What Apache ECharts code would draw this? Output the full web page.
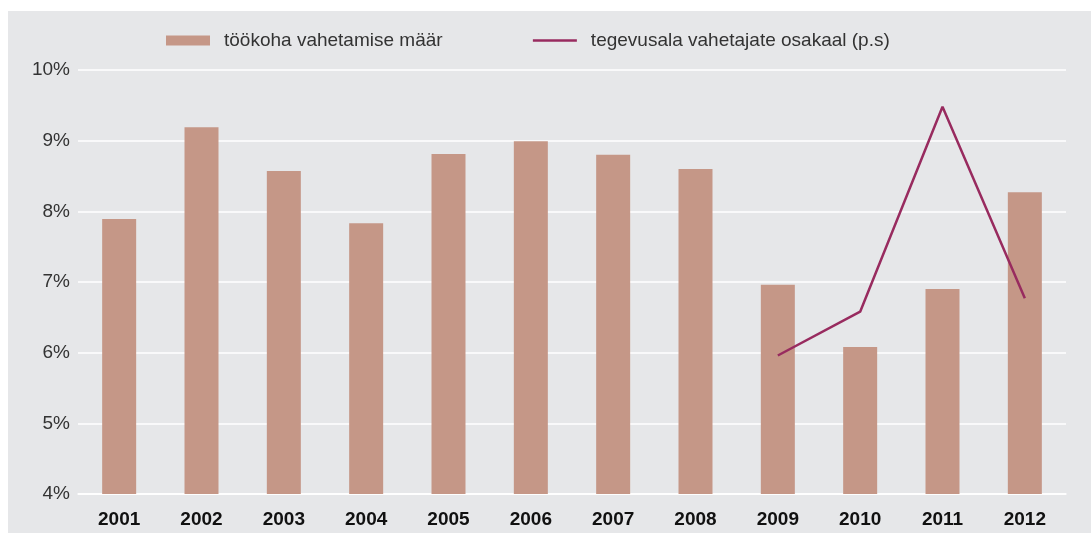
<!DOCTYPE html>
<html>
<head>
<meta charset="utf-8">
<script src="https://cdn.jsdelivr.net/npm/echarts@6/dist/echarts.min.js"></script>
<style>
html,body{margin:0;padding:0;background:#ffffff;}
#bg{position:absolute;left:8px;top:11px;width:1083px;height:522px;background:#e6e7e9;}
#chart{position:absolute;left:0;top:0;width:1091px;height:533px;}
</style>
</head>
<body>
<div id="bg"></div>
<div id="chart"></div>
<script>
const categories = ['2001','2002','2003','2004','2005','2006','2007','2008','2009','2010','2011','2012'];
const jobChangeRate = [7.89, 9.19, 8.57, 7.83, 8.81, 8.99, 8.80, 8.60, 6.96, 6.08, 6.90, 8.27];
const sectorChangeShare = [null, null, null, null, null, null, null, null, 5.96, 6.58, 9.48, 6.77];
const seriesNames = ['töökoha vahetamise määr', 'tegevusala vahetajate osakaal (p.s)'];

const chart = echarts.init(document.getElementById('chart'), null, {renderer: 'canvas'});
chart.setOption({
  backgroundColor: 'transparent',
  animation: false,
  textStyle: {fontFamily: 'Liberation Sans, Arial, sans-serif'},
  legend: {
    left: 161,
    top: 26,
    itemGap: 89,
    itemWidth: 44,
    itemHeight: 10,
    textStyle: {fontSize: 19, color: '#333333', padding: [0, 0, 0, 9], fontFamily: 'Liberation Sans, Arial, sans-serif'},
    data: [
      {name: seriesNames[0], icon: 'rect'},
      {name: seriesNames[1], itemStyle: {opacity: 0}, lineStyle: {width: 2.5, color: '#982b5f'}}
    ]
  },
  grid: {left: 78, right: 25, top: 70, bottom: 39, containLabel: false},
  xAxis: {
    type: 'category',
    data: categories,
    axisLine: {show: true, lineStyle: {color: '#ffffff', width: 1.5}},
    axisTick: {show: false},
    axisLabel: {fontSize: 19, fontWeight: 'bold', color: '#111111', margin: 16}
  },
  yAxis: {
    type: 'value',
    min: 4, max: 10, interval: 1,
    axisLine: {show: false},
    axisTick: {show: false},
    axisLabel: {fontSize: 19, color: '#333333', margin: 8, formatter: '{value}%'},
    splitLine: {lineStyle: {color: '#ffffff', width: 1.5}}
  },
  series: [
    {
      name: seriesNames[0],
      type: 'bar',
      data: jobChangeRate,
      barWidth: 34,
      itemStyle: {color: '#c59787'}
    },
    {
      name: seriesNames[1],
      type: 'line',
      data: sectorChangeShare,
      symbol: 'none',
      lineStyle: {color: '#982b5f', width: 2.5},
      itemStyle: {color: '#982b5f'}
    }
  ]
});
</script>
</body>
</html>
